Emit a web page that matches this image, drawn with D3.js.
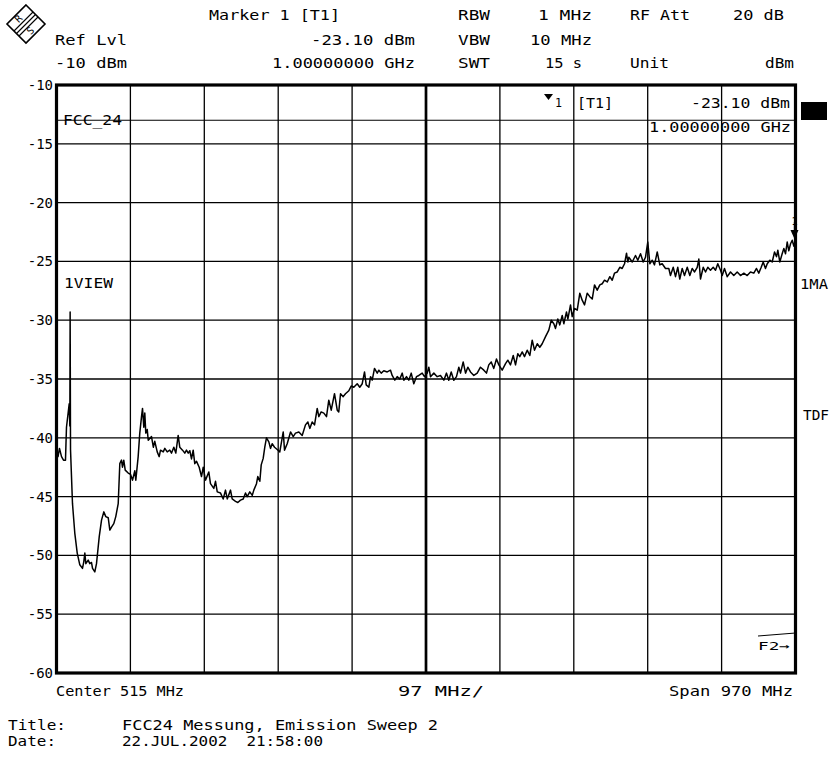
<!DOCTYPE html>
<html>
<head>
<meta charset="utf-8">
<script src="https://cdn.jsdelivr.net/npm/d3@7"></script>
<style>
  body { margin: 0; background: #fff; }
  svg { display: block; }
  text { font-family: "DejaVu Sans Mono", monospace; font-size: 14px; fill: #000; white-space: pre; }
</style>
</head>
<body>
<svg id="chart" width="830" height="757"></svg>
<script>
// sweep trace
const freqMHz = [
  30.0, 32.0, 33.9, 36.6, 39.2, 41.8, 43.1, 46.7, 47.5, 47.9,
  48.4, 51.0, 54.0, 57.2, 60.6, 64.1, 65.8, 67.2, 68.5, 71.6,
  73.7, 75.9, 77.3, 80.3, 82.5, 86.1, 89.1, 92.1, 94.7, 97.9,
  100.0, 102.2, 105.2, 107.8, 111.0, 113.1, 115.3, 116.6, 118.3, 120.2,
  124.1, 127.1, 129.8, 132.8, 134.1, 137.2, 139.3, 141.6, 142.9, 144.6,
  145.9, 147.2, 149.1, 150.4, 154.7, 157.1, 159.0, 162.2, 164.8, 166.5,
  170.1, 172.2, 175.3, 178.7, 181.0, 184.0, 186.6, 189.7, 191.8, 195.4,
  198.4, 200.6, 202.9, 205.0, 207.2, 209.4, 211.5, 213.8, 217.3, 220.3,
  222.6, 224.7, 225.6, 229.9, 232.1, 236.5, 238.7, 241.0, 245.3, 248.8,
  251.8, 254.1, 258.4, 260.6, 265.0, 268.0, 271.5, 275.1, 278.1, 280.3,
  283.7, 286.9, 289.0, 292.5, 294.2, 296.9, 298.7, 301.3, 303.4, 305.6,
  308.7, 310.9, 313.1, 316.2, 319.7, 323.1, 327.6, 329.3, 332.8, 337.2,
  340.7, 343.7, 348.1, 352.5, 356.8, 359.9, 362.5, 365.6, 368.7, 372.2,
  374.3, 377.4, 380.9, 384.4, 387.4, 390.6, 394.9, 398.5, 400.5, 402.8,
  406.3, 409.3, 413.7, 416.8, 420.2, 424.7, 428.1, 431.3, 434.3, 436.5,
  440.0, 442.2, 444.4, 447.4, 451.0, 453.1, 456.2, 459.6, 464.1, 468.4,
  470.6, 474.1, 477.2, 480.6, 483.8, 485.9, 489.4, 492.4, 495.6, 499.0,
  502.5, 505.6, 510.0, 513.0, 516.6, 518.7, 520.9, 525.3, 529.7, 534.0,
  538.4, 541.9, 544.9, 548.1, 551.5, 555.0, 558.1, 560.3, 563.8, 566.9,
  569.9, 573.4, 577.8, 582.2, 586.5, 590.9, 594.4, 597.4, 600.6, 604.0,
  607.5, 610.6, 615.0, 619.4, 622.4, 625.9, 629.5, 632.5, 635.5, 638.1,
  641.3, 644.3, 647.8, 651.3, 654.4, 657.4, 661.0, 664.4, 667.5, 671.9,
  676.2, 679.4, 682.8, 685.0, 688.0, 690.6, 693.8, 695.9, 699.4, 701.2,
  704.7, 706.9, 709.9, 713.5, 716.9, 720.0, 723.1, 726.6, 730.0, 733.2,
  736.2, 739.7, 743.2, 746.3, 749.3, 752.9, 756.3, 759.4, 762.4, 766.0,
  769.4, 772.5, 775.6, 778.2, 779.9, 781.2, 785.7, 790.0, 793.0, 796.6,
  800.1, 803.1, 806.1, 808.8, 811.9, 814.9, 818.5, 821.9, 825.0, 829.4,
  833.7, 835.9, 839.5, 842.5, 845.5, 848.1, 851.3, 854.3, 857.9, 861.3,
  864.4, 867.5, 871.0, 873.1, 875.3, 878.9, 881.9, 884.9, 888.4, 892.0,
  895.0, 898.0, 901.6, 903.8, 906.8, 910.4, 914.7, 919.0, 923.5, 927.8,
  932.2, 936.6, 940.9, 945.3, 948.8, 951.8, 955.0, 957.6, 960.6, 962.9,
  966.3, 969.4, 972.5, 975.1, 976.8, 979.4, 982.5, 984.7, 986.9, 989.1,
  991.2, 993.5, 995.7, 997.8, 1000.0
];

const levelDbm = [
  -41.0, -41.6, -40.9, -41.6, -41.9, -41.9, -39.1, -37.1, -39.0, -29.3,
  -41.0, -45.6, -48.1, -49.8, -50.8, -51.1, -50.55, -49.8, -50.7, -50.4,
  -50.7, -50.6, -51.1, -51.4, -50.7, -48.4, -47.0, -46.3, -46.7, -46.8,
  -47.85, -47.6, -47.3, -46.7, -45.6, -42.2, -41.9, -42.5, -41.9, -42.75,
  -43.0, -43.1, -43.6, -42.8, -43.6, -41.6, -39.6, -38.2, -37.5, -39.1,
  -37.9, -39.6, -39.3, -40.2, -39.9, -40.8, -40.3, -41.2, -41.6, -41.05,
  -41.2, -40.9, -41.2, -41.05, -41.3, -40.8, -41.3, -39.8, -40.8, -41.05,
  -41.3, -41.05, -41.3, -41.1, -41.8, -41.05, -42.2, -42.0, -42.5, -43.3,
  -42.5, -43.3, -43.6, -42.9, -43.9, -44.3, -43.7, -44.6, -44.7, -45.2,
  -44.45, -45.2, -44.45, -45.2, -45.4, -45.5, -45.3, -45.2, -44.7, -45.0,
  -44.6, -44.9, -44.45, -43.9, -43.3, -43.7, -42.3, -41.75, -40.8, -40.0,
  -40.35, -40.9, -40.5, -40.8, -41.0, -41.2, -39.5, -41.05, -40.5, -39.5,
  -39.9, -39.6, -39.5, -39.8, -38.9, -38.65, -39.2, -38.65, -38.9, -37.5,
  -38.2, -37.8, -37.9, -38.2, -36.8, -37.65, -36.25, -37.65, -37.8, -36.25,
  -36.5, -36.25, -36.0, -35.6, -35.7, -35.4, -35.7, -35.4, -34.4, -35.5,
  -35.7, -34.8, -35.1, -34.1, -34.5, -34.25, -34.5, -34.3, -34.4, -34.25,
  -34.7, -35.1, -34.8, -35.0, -34.5, -35.1, -34.8, -35.1, -34.5, -35.4,
  -34.8, -34.7, -34.5, -34.8, -34.5, -34.0, -34.8, -34.5, -34.8, -34.7,
  -35.1, -34.5, -35.1, -34.4, -35.1, -34.8, -34.0, -34.5, -33.55, -34.5,
  -34.0, -34.4, -34.7, -34.5, -34.0, -34.25, -34.5, -33.8, -33.55, -34.1,
  -33.3, -33.8, -34.25, -33.7, -33.4, -33.8, -33.0, -33.8, -32.85, -33.1,
  -32.7, -33.1, -32.55, -33.0, -31.7, -32.55, -32.0, -32.3, -32.0, -31.4,
  -30.85, -30.0, -30.3, -30.7, -29.9, -30.4, -29.6, -30.3, -29.3, -29.9,
  -28.7, -29.7, -29.0, -29.15, -27.7, -28.3, -28.7, -27.7, -28.0, -28.2,
  -27.0, -27.45, -27.0, -26.9, -26.6, -26.75, -26.3, -26.6, -26.0, -25.9,
  -25.5, -25.6, -25.2, -24.3, -25.05, -24.65, -25.05, -24.5, -24.9, -24.35,
  -25.05, -24.65, -23.35, -25.2, -24.9, -25.3, -24.2, -25.3, -25.2, -25.6,
  -25.6, -26.2, -25.5, -26.3, -25.5, -26.5, -25.6, -26.2, -25.5, -26.2,
  -25.6, -25.9, -25.5, -24.8, -26.5, -25.5, -25.9, -25.5, -25.75, -25.5,
  -25.75, -25.2, -25.75, -26.2, -25.6, -26.3, -25.9, -26.2, -25.9, -26.2,
  -26.0, -26.2, -25.9, -26.0, -25.6, -26.0, -25.5, -25.05, -25.6, -25.2,
  -24.9, -25.05, -24.2, -24.6, -24.05, -25.05, -24.35, -23.9, -24.35, -23.35,
  -24.1, -23.5, -23.2, -23.7, -23.1
];

const levelTicks = [-10, -15, -20, -25, -30, -35, -40, -45, -50, -55, -60];
const centerMHz = 515;
const spanMHz = 970;
const displayLineDbm = -13;   // FCC_24 limit
const markerMHz = 1000;
const markerDbm = -23.10;

const svg = d3.select('#chart');

const plotL = 56.5, plotR = 795.5, plotT = 85, plotB = 673;

const x = d3.scaleLinear()
  .domain([centerMHz - spanMHz / 2, centerMHz + spanMHz / 2])
  .range([plotL, plotR]);

const y = d3.scaleLinear()
  .domain([-60, -10])
  .range([plotB, plotT]);

// small helper for the screen texts
function txt(s, x0, yb, w, size) {
  const t = svg.append('text').attr('x', x0).attr('y', yb).text(s);
  if (size) t.style('font-size', size + 'px');
  if (w) t.attr('textLength', w).attr('lengthAdjust', 'spacingAndGlyphs');
  return t;
}

// --- R&S logo ---
const logo = svg.append('g').attr('transform', 'translate(26,24)');
logo.append('path')
  .attr('d', 'M0,-19 L19,0 L0,19 L-19,0 Z')
  .attr('fill', 'none').attr('stroke', '#000').attr('stroke-width', 1.6);
[-2.5, 0, 2.5].forEach(o => {
  logo.append('line')
    .attr('x1', -9.5 + o).attr('y1', 9.5 + o)
    .attr('x2', 9.5 + o).attr('y2', -9.5 + o)
    .attr('stroke', '#000').attr('stroke-width', 1.1);
});
logo.append('text').attr('transform', 'translate(-5,-3) rotate(-45)')
  .attr('text-anchor', 'middle').style('font-size', '10px').text('R');
logo.append('text').attr('transform', 'translate(7,9) rotate(-45)')
  .attr('text-anchor', 'middle').style('font-size', '10px').text('S');

// --- header ---
txt('Marker 1 [T1]', 209, 20, 131);
txt('Ref Lvl', 55, 45, 72);
txt('-10 dBm', 55, 68, 72);
txt('-23.10 dBm', 311, 45, 104);
txt('1.00000000 GHz', 272, 68, 143);
txt('RBW', 458, 20, 32);
txt('1 MHz', 538, 20, 54);
txt('RF Att', 630, 20, 60);
txt('20 dB', 733, 20, 51);
txt('VBW', 458, 45, 32);
txt('10 MHz', 530, 45, 62);
txt('SWT', 458, 68, 32);
txt('15 s', 545, 68, 37);
txt('Unit', 630, 68, 39);
txt('dBm', 765, 68, 29);

// --- grid ---
const grid = svg.append('g');
const vLines = d3.range(1, 10).map(i => x.domain()[0] + i * spanMHz / 10);
grid.selectAll('.vgrid')
  .data(vLines)
  .enter().append('line')
  .attr('class', 'vgrid')
  .attr('x1', d => x(d)).attr('x2', d => x(d))
  .attr('y1', plotT).attr('y2', plotB)
  .attr('stroke', '#000')
  .attr('stroke-width', d => d === centerMHz ? 2.7 : 1.3);

grid.selectAll('.hgrid')
  .data(levelTicks.slice(1, -1))
  .enter().append('line')
  .attr('class', 'hgrid')
  .attr('x1', plotL).attr('x2', plotR)
  .attr('y1', d => y(d)).attr('y2', d => y(d))
  .attr('stroke', '#000')
  .attr('stroke-width', 1.3);

// y tick labels
const yAxis = svg.append('g')
  .attr('transform', `translate(${plotL - 1.5},0)`)
  .call(d3.axisLeft(y).tickValues(levelTicks).tickSize(0).tickPadding(2).tickFormat(d => `${d}`));
yAxis.select('.domain').remove();
yAxis.selectAll('text')
  .style('font-family', '"DejaVu Sans Mono", monospace')
  .style('font-size', '14px')
  .attr('fill', '#000');

// display line FCC_24
svg.append('line')
  .attr('x1', plotL).attr('x2', plotR)
  .attr('y1', y(displayLineDbm)).attr('y2', y(displayLineDbm))
  .attr('stroke', '#000').attr('stroke-width', 1.1);
txt('FCC_24', 63, 125, 59);

// --- trace ---
svg.append('clipPath').attr('id', 'plot')
  .append('rect').attr('x', plotL).attr('y', plotT).attr('width', plotR - plotL).attr('height', plotB - plotT);

const line = d3.line()
  .x(i => x(freqMHz[i]))
  .y(i => y(levelDbm[i]));

svg.append('path')
  .datum(d3.range(freqMHz.length))
  .attr('clip-path', 'url(#plot)')
  .attr('fill', 'none')
  .attr('stroke', '#000')
  .attr('stroke-width', 1.5)
  .attr('stroke-linejoin', 'round')
  .attr('d', line);

// frame
svg.append('rect')
  .attr('x', plotL).attr('y', plotT)
  .attr('width', plotR - plotL).attr('height', plotB - plotT)
  .attr('fill', 'none').attr('stroke', '#000').attr('stroke-width', 3.2);

// --- marker ---
const mx = x(markerMHz), my = y(markerDbm);
svg.append('line')
  .attr('x1', mx - 1).attr('x2', mx - 1)
  .attr('y1', my - 17).attr('y2', my - 8)
  .attr('stroke', '#000').attr('stroke-width', 1.3);
svg.append('path')
  .attr('d', `M${mx - 5},${my - 9} L${mx + 3},${my - 9} L${mx - 1},${my} Z`)
  .attr('fill', '#000');
txt('1', mx - 4, my - 14, null, 10);

// marker readout in the grid
svg.append('path')
  .attr('d', 'M544,94 L553,94 L548.5,100 Z')
  .attr('fill', '#000');
txt('1', 555, 107, 7, 12);
txt('[T1]', 577, 108, 36);
txt('-23.10 dBm', 691, 108, 99);
txt('1.00000000 GHz', 649, 132, 142);

// right side
svg.append('rect').attr('x', 801).attr('y', 102).attr('width', 26).attr('height', 18).attr('fill', '#000');
txt('1MA', 800, 289, 28);
txt('TDF', 803, 420, 26);
txt('1VIEW', 64, 288, 49);

// F2 frequency line mark
svg.append('line')
  .attr('x1', 758).attr('y1', 636).attr('x2', plotR).attr('y2', 633)
  .attr('stroke', '#000').attr('stroke-width', 1);
txt('F2\u2192', 758, 650, 32, 11);

// --- bottom annotations ---
txt('Center 515 MHz', 56, 696, 128);
txt('97 MHz/', 398, 696, 86);
txt('Span 970 MHz', 669, 696, 124);
txt('Title:', 8, 730, 58);
txt('FCC24 Messung, Emission Sweep 2', 122, 730, 316);
txt('Date:', 8, 746, 48);
txt('22.JUL.2002  21:58:00', 122, 746, 201);
</script>
</body>
</html>
